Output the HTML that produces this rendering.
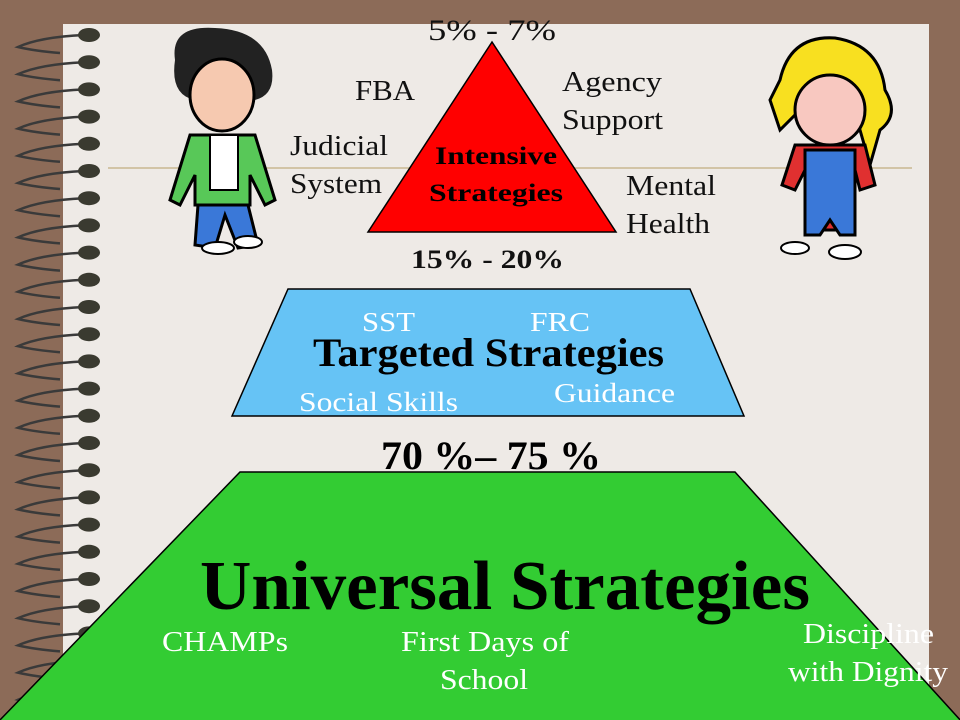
<!DOCTYPE html>
<html><head><meta charset="utf-8"><style>
body{margin:0;width:960px;height:720px;overflow:hidden;background:#8C6B58;font-family:"Liberation Serif",serif}
svg{position:absolute;left:0;top:0}
</style></head><body>
<svg width="960" height="720" viewBox="0 0 960 720">
<rect x="63" y="24" width="866" height="700" fill="#EEEAE6"/>
<line x1="108" y1="168" x2="912" y2="168" stroke="#C8B890" stroke-width="1.5"/>
<g id="spirals"></g>

<g>
<path d="M175,60 Q170,25 215,28 Q265,30 272,70 Q275,95 255,100 L195,100 Q170,95 175,60Z" fill="#222"/>
<ellipse cx="222" cy="95" rx="32" ry="36" fill="#F6C9B0" stroke="#000" stroke-width="3"/>
<path d="M190,135 L255,135 L275,200 L265,205 L250,175 L250,205 L195,205 L195,175 L180,205 L170,200Z" fill="#58C858" stroke="#000" stroke-width="3"/>
<rect x="210" y="135" width="28" height="55" fill="#fff" stroke="#000" stroke-width="2"/>
<path d="M198,205 L248,205 L258,245 L238,248 L225,215 L215,248 L195,245Z" fill="#3A78D8" stroke="#000" stroke-width="3"/>
<ellipse cx="218" cy="248" rx="16" ry="6" fill="#fff" stroke="#000" stroke-width="2"/>
<ellipse cx="248" cy="242" rx="14" ry="6" fill="#fff" stroke="#000" stroke-width="2"/>
</g>

<g>
<path d="M780,80 Q790,35 835,38 Q880,45 885,90 Q900,115 880,130 L870,165 L860,130 L800,110 L780,130 L770,100Z" fill="#F8E020" stroke="#000" stroke-width="3"/>
<ellipse cx="830" cy="110" rx="35" ry="35" fill="#F8C8C0" stroke="#000" stroke-width="3"/>
<path d="M795,145 L865,145 L875,185 L860,190 L855,170 L855,230 L805,230 L805,170 L795,190 L782,185Z" fill="#E03030" stroke="#000" stroke-width="3"/>
<path d="M805,150 L855,150 L855,235 L840,235 L830,220 L820,235 L805,235Z" fill="#3A78D8" stroke="#000" stroke-width="3"/>
<ellipse cx="795" cy="248" rx="14" ry="6" fill="#fff" stroke="#000" stroke-width="2"/>
<ellipse cx="845" cy="252" rx="16" ry="7" fill="#fff" stroke="#000" stroke-width="2"/>
</g>

<polygon points="492,42 368,232 616,232" fill="#FF0000" stroke="#000" stroke-width="1.5"/>
<polygon points="288,289 690,289 744,416 232,416" fill="#66C3F5" stroke="#000" stroke-width="1.5"/>
<polygon points="240,472 735,472 962,722 -2,722" fill="#33CC33" stroke="#000" stroke-width="1.5"/>

<g font-family="Liberation Serif, serif" fill="#111" lengthAdjust="spacingAndGlyphs">
<text x="428" y="40" font-size="30" textLength="128" lengthAdjust="spacingAndGlyphs">5% - 7%</text>
<text x="355" y="100" font-size="29" textLength="60" lengthAdjust="spacingAndGlyphs">FBA</text>
<text x="290" y="155" font-size="29" textLength="98" lengthAdjust="spacingAndGlyphs">Judicial</text>
<text x="290" y="193" font-size="29" textLength="92" lengthAdjust="spacingAndGlyphs">System</text>
<text x="562" y="91" font-size="29" textLength="100" lengthAdjust="spacingAndGlyphs">Agency</text>
<text x="562" y="129" font-size="29" textLength="101" lengthAdjust="spacingAndGlyphs">Support</text>
<text x="626" y="195" font-size="29" textLength="90" lengthAdjust="spacingAndGlyphs">Mental</text>
<text x="626" y="233" font-size="29" textLength="84" lengthAdjust="spacingAndGlyphs">Health</text>
<text x="435" y="164" font-size="25" font-weight="bold" fill="#000" textLength="122" lengthAdjust="spacingAndGlyphs">Intensive</text>
<text x="429" y="201" font-size="25" font-weight="bold" fill="#000" textLength="134" lengthAdjust="spacingAndGlyphs">Strategies</text>
<text x="411" y="268" font-size="26" font-weight="bold" textLength="153" lengthAdjust="spacingAndGlyphs">15% - 20%</text>
<text x="362" y="331" font-size="27" fill="#fff" textLength="53" lengthAdjust="spacingAndGlyphs">SST</text>
<text x="530" y="331" font-size="27" fill="#fff" textLength="60" lengthAdjust="spacingAndGlyphs">FRC</text>
<text x="313" y="366" font-size="40" font-weight="bold" fill="#000" textLength="351" lengthAdjust="spacingAndGlyphs">Targeted Strategies</text>
<text x="299" y="411" font-size="27" fill="#fff" textLength="159" lengthAdjust="spacingAndGlyphs">Social Skills</text>
<text x="554" y="402" font-size="27" fill="#fff" textLength="121" lengthAdjust="spacingAndGlyphs">Guidance</text>
<text x="381" y="469" font-size="40" font-weight="bold" fill="#000" textLength="220" lengthAdjust="spacingAndGlyphs">70 %– 75 %</text>
<text x="200" y="609" font-size="70" font-weight="bold" fill="#000" textLength="610" lengthAdjust="spacingAndGlyphs">Universal Strategies</text>
<text x="162" y="651" font-size="29" fill="#fff" textLength="126" lengthAdjust="spacingAndGlyphs">CHAMPs</text>
<text x="401" y="651" font-size="29" fill="#fff" textLength="168" lengthAdjust="spacingAndGlyphs">First Days of</text>
<text x="440" y="689" font-size="29" fill="#fff" textLength="88" lengthAdjust="spacingAndGlyphs">School</text>
<text x="803" y="643" font-size="29" fill="#fff" textLength="131" lengthAdjust="spacingAndGlyphs">Discipline</text>
<text x="788" y="681" font-size="29" fill="#fff" textLength="160" lengthAdjust="spacingAndGlyphs">with Dignity</text>
</g>
</svg>
<script>
var g=document.getElementById('spirals'),ns='http://www.w3.org/2000/svg';
for(var i=0;i<25;i++){var y=35+i*27.2;
var p=document.createElementNS(ns,'path');
p.setAttribute('d','M84,'+y+' Q40,'+(y+2)+' 18,'+(y+12)+' Q35,'+(y+16)+' 60,'+(y+18));
p.setAttribute('fill','none');p.setAttribute('stroke','#3a3a3a');p.setAttribute('stroke-width','2.5');


g.appendChild(p);
var e=document.createElementNS(ns,'ellipse');
e.setAttribute('cx','89');e.setAttribute('cy',y);e.setAttribute('rx','11');e.setAttribute('ry','7');e.setAttribute('fill','#3a3a30');


g.appendChild(e);}
</script>
</body></html>
